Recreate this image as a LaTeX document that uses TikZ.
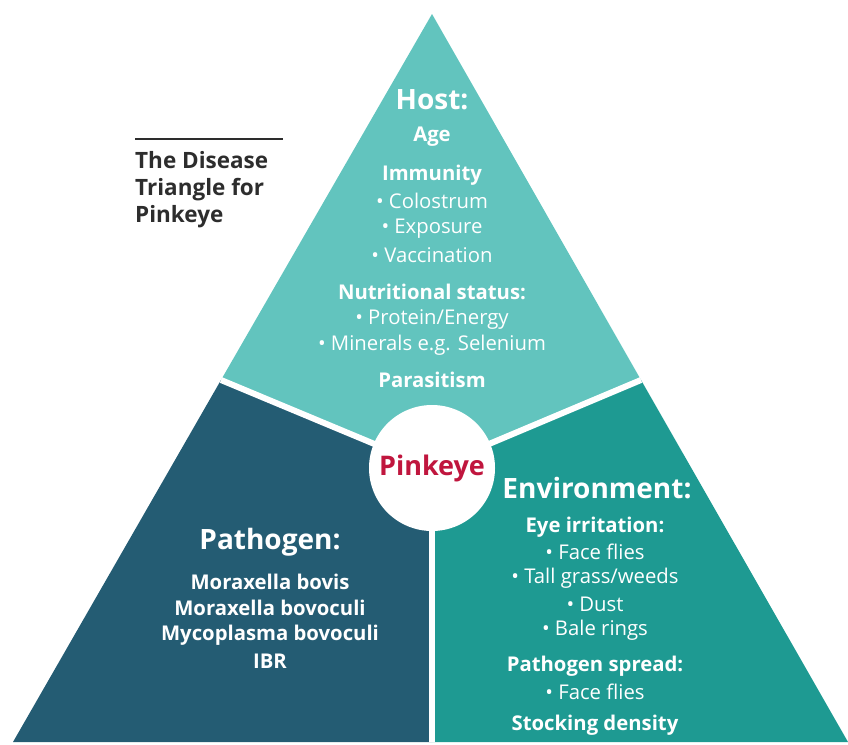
\documentclass[tikz,border=0pt]{standalone}
\usepackage{fontspec}
\setmainfont{Open Sans}
\usetikzlibrary{positioning}
\definecolor{hostteal}{RGB}{98,196,190}
\definecolor{pathblue}{RGB}{36,92,115}
\definecolor{envteal}{RGB}{30,154,146}
\definecolor{pinkred}{RGB}{192,22,62}
\definecolor{titlegray}{RGB}{45,45,45}
\tikzset{
  head/.style={text=white,font=\fontsize{28}{30}\selectfont\bfseries,inner sep=0pt},
  itembf/.style={text=white,font=\fontsize{20.3}{22}\selectfont\bfseries,inner sep=0pt},
  item/.style={text=white,font=\fontsize{20.3}{22}\selectfont,inner sep=0pt},
  split/.style={white,line width=6pt}
}
\begin{document}
\begin{tikzpicture}[x=1pt,y=-1pt]
        \useasboundingbox (0,0) rectangle (848,744);
        % corners of the triangle
        \coordinate (A) at (432,14);
        \coordinate (BL) at (13,742);
        \coordinate (BR) at (848,742);
        \coordinate (C) at (432,468);
        \coordinate (L) at (221,380);
        \coordinate (R) at (641,380);
        \coordinate (M) at (432,742);

        \fill[hostteal] (A) -- (R) -- (C) -- (L) -- cycle;
        \fill[pathblue] (L) -- (C) -- (M) -- (BL) -- cycle;
        \fill[envteal] (R) -- (BR) -- (M) -- (C) -- cycle;
        \draw[split] (C) -- (L);
        \draw[split] (C) -- (R);
        \draw[split] (C) -- (M);
        \node[circle,fill=white,minimum size=126pt,inner sep=0pt,text=pinkred,font=\fontsize{27}{30}\selectfont\bfseries] (pink) at (C) {Pinkeye};

        % title
        \coordinate (T1) at (135,139);
        \coordinate (T2) at (283,139);
        \draw[titlegray,line width=2.5pt] (T1) -- (T2);
        \node[anchor=north west,align=left,text=titlegray,inner sep=0pt,font=\fontsize{22.5}{27}\selectfont\bfseries] (title) at (135,151) {The Disease\\Triangle for\\Pinkeye};

        % host
        \node[head] (host) at (432,100) {Host:};
        \node[itembf] (age) at (432,137) {Age};
        \node[itembf] (imm) at (432,175) {Immunity};
        \node[item] (colo) at (432,201) {\textbullet\ Colostrum};
        \node[item] (expo) at (432,229) {\textbullet\ Exposure};
        \node[item] (vacc) at (432,255) {\textbullet\ Vaccination};
        \node[itembf] (nutr) at (432,292) {Nutritional status:};
        \node[item] (prot) at (432,319) {\textbullet\ Protein/Energy};
        \node[item] (mine) at (432,345) {\textbullet\ Minerals e.g. Selenium};
        \node[itembf] (para) at (432,380) {Parasitism};

        % pathogen
        \node[head] (path) at (270,542) {Pathogen:};
        \node[itembf] (mbov) at (270,582) {Moraxella bovis};
        \node[itembf] (mbovo) at (270,608) {Moraxella bovoculi};
        \node[itembf] (mycb) at (270,635) {Mycoplasma bovoculi};
        \node[itembf] (ibr) at (270,661) {IBR};

        % environment
        \node[head] (env) at (597,488) {Environment:};
        \node[itembf] (eye) at (595,527) {Eye irritation:};
        \node[item] (face) at (595,552) {\textbullet\ Face flies};
        \node[item] (tall) at (595,578) {\textbullet\ Tall grass/weeds};
        \node[item] (dust) at (595,604) {\textbullet\ Dust};
        \node[item] (bale) at (595,630) {\textbullet\ Bale rings};
        \node[itembf] (spread) at (595,666) {Pathogen spread:};
        \node[item] (face2) at (595,692) {\textbullet\ Face flies};
        \node[itembf] (stock) at (595,725) {Stocking density};
      \end{tikzpicture}
\end{document}
